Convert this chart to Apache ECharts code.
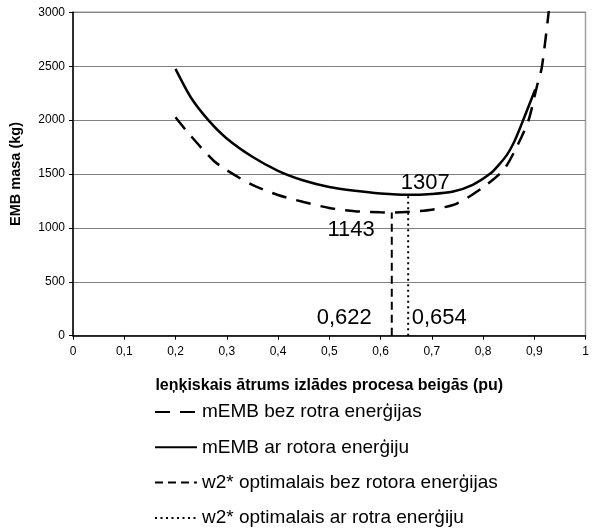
<!DOCTYPE html>
<html>
<head>
<meta charset="utf-8">
<script src="https://cdn.jsdelivr.net/npm/echarts@6/dist/echarts.min.js"></script>
<style>
html,body{margin:0;padding:0;background:#fff;}
#chart{width:592px;height:529px;}
</style>
</head>
<body>
<div id="chart"></div>
<script>
// ---- data ----
var seriesNames = [
  'mEMB bez rotra enerģijas',
  'mEMB ar rotora enerģiju',
  'w2* optimalais bez rotora enerģijas',
  'w2* optimalais ar rotra enerģiju'
];
// mEMB without rotor energy (dashed curve): [speed pu, mass kg]
var massNoRotorX = [0.20, 0.22, 0.25, 0.275, 0.30, 0.35, 0.40, 0.45, 0.50, 0.55, 0.60, 0.622, 0.65, 0.70, 0.75, 0.80, 0.84, 0.866, 0.889, 0.905, 0.915, 0.93];
var massNoRotorY = [2026, 1908, 1745, 1621, 1535, 1398, 1305, 1240, 1185, 1155, 1145, 1143, 1148, 1168, 1228, 1375, 1537, 1753, 2001, 2310, 2495, 3080];
// mEMB with rotor energy (solid curve)
var massRotorX = [0.20, 0.23, 0.265, 0.30, 0.35, 0.40, 0.45, 0.50, 0.55, 0.60, 0.654, 0.70, 0.74, 0.78, 0.815, 0.83, 0.847, 0.86, 0.873, 0.89, 0.902];
var massRotorY = [2475, 2210, 1995, 1830, 1660, 1530, 1440, 1380, 1345, 1320, 1307, 1315, 1335, 1400, 1506, 1580, 1680, 1790, 1935, 2140, 2285];
// optimal speeds and corresponding minimum masses
var optSpeed = [0.622, 0.654];
var optMass = [1143, 1307];
// axis ticks
var xTicks = [0, 0.1, 0.2, 0.3, 0.4, 0.5, 0.6, 0.7, 0.8, 0.9, 1];
var yTicks = [0, 500, 1000, 1500, 2000, 2500, 3000];

function zip(xs, ys){ return xs.map(function(x,i){ return [x, ys[i]]; }); }
function fmt(v){ return String(Math.round(v*1000)/1000).replace('.', ','); }

var FONT = "'Liberation Sans', Arial, sans-serif";
var chart = echarts.init(document.getElementById('chart'));

function lbl(text, dx, dy){
  return {show:true, formatter:text, position:'inside', offset:[dx,dy],
          fontSize:22, color:'#000', fontFamily:FONT, align:'center', verticalAlign:'middle'};
}

var option = {
  backgroundColor:'#fff',
  animation:false,
  textStyle:{fontFamily:FONT},
  grid:{left:70, right:6.5, top:12.3, bottom:193.3, show:true, borderColor:'#a0a0a0', borderWidth:1.5, containLabel:false},
  legend:{
    orient:'vertical', left:154, top:402, padding:0,
    itemWidth:42, itemHeight:14, itemGap:15.3,
    itemStyle:{opacity:0},
    textStyle:{fontSize:19, color:'#000', fontFamily:FONT, lineHeight:20},
    data:seriesNames
  },
  xAxis:{
    type:'value', min:xTicks[0], max:xTicks[xTicks.length-1], interval:0.1,
    name:'leņķiskais ātrums izlādes procesa beigās (pu)',
    nameLocation:'middle', nameGap:42,
    nameTextStyle:{fontSize:16, fontWeight:'bold', color:'#000', fontFamily:FONT},
    axisLine:{lineStyle:{color:'#000', width:1.5}},
    axisTick:{show:true, length:4, lineStyle:{color:'#000'}},
    axisLabel:{formatter:fmt, fontSize:12, color:'#000', margin:10, showMaxLabel:true, showMinLabel:true},
    splitLine:{show:false}
  },
  yAxis:{
    type:'value', min:yTicks[0], max:yTicks[yTicks.length-1], interval:500,
    name:'EMB masa (kg)', nameLocation:'middle', nameGap:50,
    nameTextStyle:{fontSize:14.5, fontWeight:'bold', color:'#000', fontFamily:FONT},
    axisLine:{show:true, lineStyle:{color:'#000', width:1.5}},
    axisTick:{show:true, length:4, lineStyle:{color:'#000'}},
    axisLabel:{fontSize:12, color:'#000', margin:8, formatter:function(v){ return String(v); }},
    splitLine:{show:true, lineStyle:{color:'#808080', width:1}}
  },
  series:[
    {
      name:seriesNames[0], type:'line', data:zip(massNoRotorX, massNoRotorY),
      smooth:0.25, symbol:'none', clip:true,
      lineStyle:{color:'#000', width:2.5, type:[15,10]}, itemStyle:{color:'#000'}
    },
    {
      name:seriesNames[1], type:'line', data:zip(massRotorX, massRotorY),
      smooth:0.25, symbol:'none', clip:true,
      lineStyle:{color:'#000', width:2.5, type:'solid'}, itemStyle:{color:'#000'}
    },
    {
      name:seriesNames[2], type:'line',
      data:[[optSpeed[0], 0], [optSpeed[0], optMass[0]]],
      symbol:'none',
      lineStyle:{color:'#000', width:2, type:[8,5]}, itemStyle:{color:'#000'},
      markPoint:{
        symbol:'circle', symbolSize:1, itemStyle:{color:'rgba(0,0,0,0)'}, silent:true,
        data:[
          {coord:[optSpeed[0], 0], label:lbl(fmt(optSpeed[0]), -47.6, -17.7)},
          {coord:[optSpeed[0], optMass[0]], label:lbl(String(optMass[0]), -40.6, 17.5)}
        ]
      }
    },
    {
      name:seriesNames[3], type:'line',
      data:[[optSpeed[1], 0], [optSpeed[1], optMass[1]]],
      symbol:'none',
      lineStyle:{color:'#000', width:2, type:[2,3.5]}, itemStyle:{color:'#000'},
      markPoint:{
        symbol:'circle', symbolSize:1, itemStyle:{color:'rgba(0,0,0,0)'}, silent:true,
        data:[
          {coord:[optSpeed[1], 0], label:lbl(fmt(optSpeed[1]), 31, -17.7)},
          {coord:[optSpeed[1], optMass[1]], label:lbl(String(optMass[1]), 17, -11.5)}
        ]
      }
    }
  ]
};
chart.setOption(option);
</script>
</body>
</html>
